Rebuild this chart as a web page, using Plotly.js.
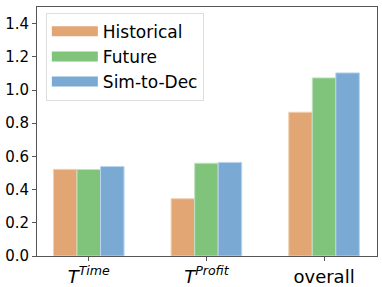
<!DOCTYPE html>
<html>
<head>
<meta charset="utf-8">
<script src="https://cdn.plot.ly/plotly-3.0.1.min.js"></script>
<style>html,body{margin:0;padding:0;background:#fff;}#chart{width:382px;height:287px;}</style>
</head>
<body>
<div id="chart"></div>
<script>
const categories = ['time', 'profit', 'overall'];
const tickLabels = ['<i>T</i><sup><i>Time</i></sup>', '<i>T</i><sup><i>Profit</i></sup>', 'overall'];
const seriesNames = ['Historical', 'Future', 'Sim-to-Dec'];
const historical = [0.522, 0.345, 0.866];
const future = [0.521, 0.559, 1.073];
const simToDec = [0.539, 0.564, 1.103];
const colors = ['#E2A674', '#80C47C', '#7AA9D4'];
const edgeColors = ['#F0D0B4', '#C0E2BE', '#BCD4EA'];

const values = [historical, future, simToDec];
const traces = [];
values.forEach((v, i) => {
  traces.push({
    type: 'bar', x: categories, y: v, name: seriesNames[i],
    marker: {color: colors[i], line: {color: edgeColors[i], width: 1}},
    showlegend: false, hoverinfo: 'none'
  });
});
values.forEach((v, i) => {
  traces.push({
    type: 'scatter', mode: 'lines', x: [null], y: [null], name: seriesNames[i],
    line: {color: colors[i], width: 11}, showlegend: true, hoverinfo: 'none'
  });
});

const layout = {
  width: 382, height: 287,
  margin: {l: 37, r: 5, t: 7, b: 31},
  paper_bgcolor: '#fff', plot_bgcolor: '#fff',
  font: {family: 'DejaVu Sans', color: '#000'},
  barmode: 'group', bargap: 0.4, bargroupgap: 0,
  xaxis: {
    type: 'category', categoryarray: categories, tickvals: categories, ticktext: tickLabels,
    range: [-0.44, 2.45], showline: true, mirror: true, linecolor: '#555', linewidth: 1,
    ticks: 'outside', ticklen: 4, tickcolor: '#555', tickfont: {size: 18}, showgrid: false
  },
  yaxis: {
    range: [0, 1.5], tickvals: [0, 0.2, 0.4, 0.6, 0.8, 1.0, 1.2, 1.4],
    ticktext: ['0.0', '0.2', '0.4', '0.6', '0.8', '1.0', '1.2', '1.4'],
    showline: true, mirror: true, linecolor: '#555', linewidth: 1,
    ticks: 'outside', ticklen: 4, tickcolor: '#555', tickfont: {size: 15}, showgrid: false, zeroline: false
  },
  legend: {
    x: 0.026, y: 0.977, xanchor: 'left', yanchor: 'top',
    bgcolor: '#fff', bordercolor: '#ddd', borderwidth: 1,
    font: {size: 17}, itemwidth: 46
  },
  showlegend: true
};
Plotly.newPlot('chart', traces, layout, {staticPlot: true, displayModeBar: false});
</script>
</body>
</html>
